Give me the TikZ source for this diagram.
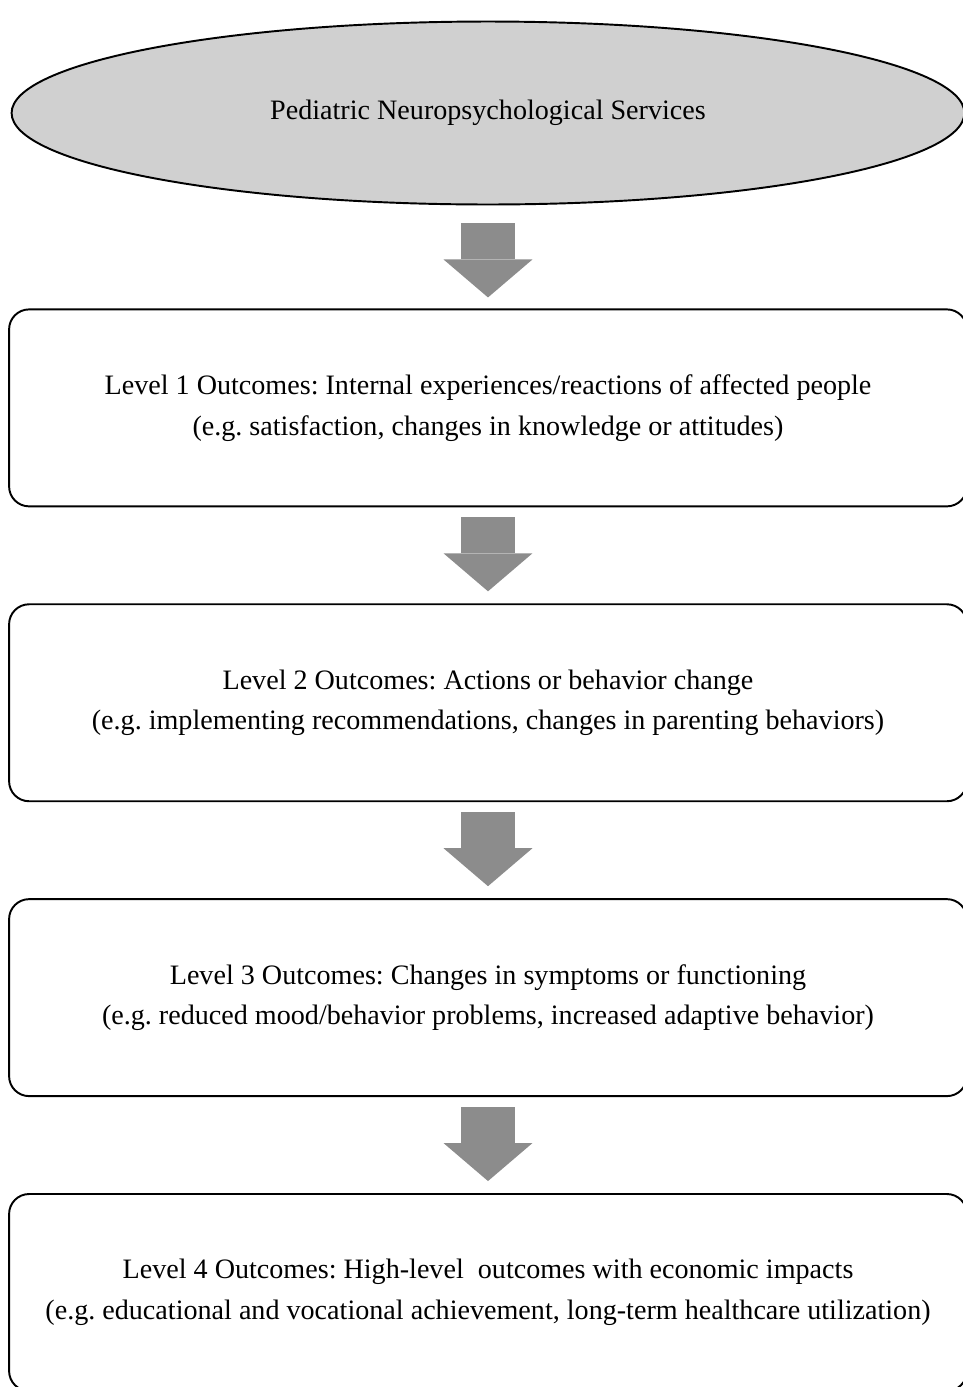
\documentclass[tikz,border=0pt]{standalone}
\usepackage{fontspec}
\setmainfont{Liberation Serif}
\frenchspacing
\usetikzlibrary{arrows.meta,shapes.geometric,positioning}
\definecolor{ovalgray}{HTML}{D0D0D0}
\definecolor{arrowgray}{HTML}{8C8C8C}

\begin{document}
\begin{tikzpicture}[x=0.02cm,y=-0.02cm,node distance=1.92cm]
    \tikzstyle{every node}=[font={\fontsize{16}{23.3}\selectfont}]
    \tikzstyle{service}=[ellipse,draw,line width=1.1pt,fill=ovalgray,minimum width=19.06cm,minimum height=3.66cm,inner sep=0pt]
    \tikzstyle{level}=[rectangle,draw,line width=1.1pt,rounded corners=0.4cm,minimum width=19.16cm,minimum height=3.94cm,align=center]
    \tikzstyle{flow}=[arrowgray,line width=1.08cm,-{Triangle[width=1.78cm,length=0.76cm,line width=0pt,fill=arrowgray]}]

    \useasboundingbox (0,0) rectangle (963,1387);
    \clip (0,0) rectangle (963,1387);

    \node[service] (svc) at (488,113) {Pediatric Neuropsychological Services};
    \node[level] (lvl1) [below=2.06cm of svc] {Level 1 Outcomes: Internal experiences/reactions of affected people\\(e.g. satisfaction, changes in knowledge or attitudes)};
    \node[level] (lvl2) [below=of lvl1] {Level 2 Outcomes: Actions or behavior change\\(e.g. implementing recommendations, changes in parenting behaviors)};
    \node[level] (lvl3) [below=of lvl2] {Level 3 Outcomes: Changes in symptoms or functioning\\(e.g. reduced mood/behavior problems, increased adaptive behavior)};
    \node[level] (lvl4) [below=of lvl3] {Level 4 Outcomes: High-level~ outcomes with economic impacts\\(e.g. educational and vocational achievement, long-term healthcare utilization)};

    \path[flow]
    (svc) edge [shorten <=0.36cm,shorten >=0.22cm] (lvl1)
    (lvl1) edge [shorten <=0.2cm,shorten >=0.24cm] (lvl2)
    (lvl2) edge [shorten <=0.2cm,shorten >=0.24cm] (lvl3)
    (lvl3) edge [shorten <=0.2cm,shorten >=0.24cm] (lvl4);
\end{tikzpicture}
\end{document}
